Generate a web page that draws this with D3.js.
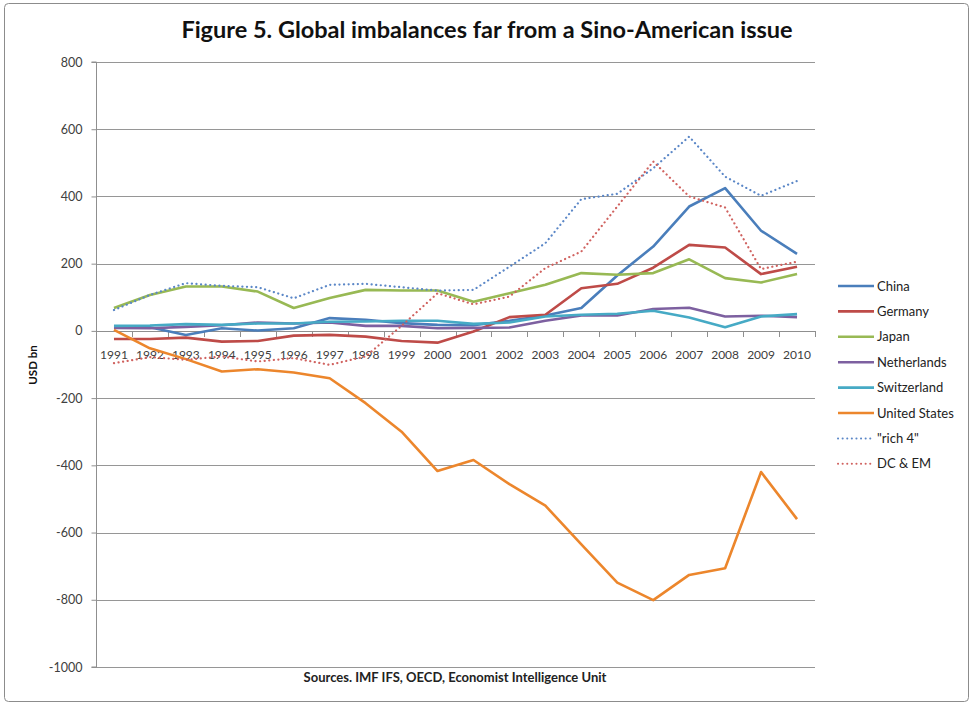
<!DOCTYPE html>
<html>
<head>
<meta charset="utf-8">
<script src="https://cdn.jsdelivr.net/npm/d3@7"></script>
<style>
  body { margin: 0; background: #fff; }
  svg { display: block; font-family: Lato, "Open Sans", sans-serif; }
</style>
</head>
<body>
<div id="graphicContainer"></div>
<script>
var years = ["1991","1992","1993","1994","1995","1996","1997","1998","1999","2000",
  "2001","2002","2003","2004","2005","2006","2007","2008","2009","2010"]
var yTicks = [800, 600, 400, 200, 0, -200, -400, -600, -800, -1000]

var china = [13, 11, -12, 8, 1, 8, 38, 33, 23, 18, 17, 30, 46, 68, 165, 251, 370, 425, 298, 229]
var germany = [-24, -24, -20, -32, -30, -14, -12, -17, -30, -35, -2, 41, 48, 127, 140, 188, 256, 248, 169, 191]
var japan = [68, 107, 132, 132, 117, 68, 98, 122, 120, 120, 87, 112, 137, 172, 167, 172, 213, 157, 144, 169]
var netherlands = [9, 8, 12, 17, 25, 22, 25, 15, 15, 8, 9, 10, 30, 46, 46, 65, 69, 43, 45, 41]
var switzerland = [15, 16, 20, 18, 22, 22, 27, 28, 30, 30, 21, 25, 43, 48, 51, 60, 40, 11, 43, 50]
var unitedStates = [3, -52, -84, -121, -114, -124, -141, -215, -300, -417, -384, -456, -520, -635, -749, -801, -726, -706, -420, -560]
var rich4 = [62, 107, 142, 134, 130, 97, 137, 140, 130, 120, 122, 191, 261, 392, 408, 484, 578, 459, 402, 446]
var dcEm = [-96, -78, -86, -76, -91, -81, -101, -76, 15, 112, 79, 102, 187, 236, 370, 504, 400, 367, 184, 206]

var series = [
  { name: "China", values: china, color: "#4a7ebb", dotted: false },
  { name: "Germany", values: germany, color: "#be4b48", dotted: false },
  { name: "Japan", values: japan, color: "#98b954", dotted: false },
  { name: "Netherlands", values: netherlands, color: "#7d60a0", dotted: false },
  { name: "Switzerland", values: switzerland, color: "#46aac5", dotted: false },
  { name: "United States", values: unitedStates, color: "#ec862c", dotted: false },
  { name: "\"rich 4\"", values: rich4, color: "#5b87c7", dotted: true },
  { name: "DC & EM", values: dcEm, color: "#d0625f", dotted: true }
]

var width = 971
var height = 704
var plotLeft = 96, plotRight = 815, plotTop = 62, plotBottom = 667

var svg = d3.select("#graphicContainer")
  .append("svg")
  .attr("width", width)
  .attr("height", height)

// outer frame
svg.append("rect")
  .attr("x", 4.5).attr("y", 3.5)
  .attr("width", 964).attr("height", 698)
  .attr("rx", 4)
  .attr("fill", "#fff")
  .attr("stroke", "#8c8c8c")
  .attr("stroke-width", 1)

var x = d3.scaleBand().domain(years).range([plotLeft, plotRight])
var y = d3.scaleLinear().domain([-1000, 800]).range([plotBottom, plotTop])

// gridlines
svg.append("g")
  .selectAll("line")
  .data(yTicks.filter(d => d !== 0))
  .join("line")
  .attr("x1", plotLeft).attr("x2", plotRight)
  .attr("y1", d => Math.round(y(d)) + 0.5)
  .attr("y2", d => Math.round(y(d)) + 0.5)
  .attr("stroke", "#969696")
  .attr("stroke-width", 1)

// y axis
var yAxis = svg.append("g")
  .attr("transform", "translate(" + (plotLeft + 0.5) + ",0)")
  .call(d3.axisLeft(y).tickValues(yTicks).tickSize(5).tickPadding(9).tickFormat(d => String(d)))
yAxis.select(".domain").attr("stroke", "#8f8f8f").attr("d", "M-5," + (y(800)) + "H0V" + y(-1000) + "H-5")
yAxis.selectAll(".tick line").attr("stroke", "#8f8f8f")
yAxis.selectAll(".tick text")
  .attr("fill", "#404040")
  .style("font-size", "12.5px")
  .style("font-family", "Lato, sans-serif")

// x axis at zero
var boundaries = years.map(d => x(d)).concat([plotRight])
var xAxis = svg.append("g")
xAxis.append("line")
  .attr("x1", plotLeft).attr("x2", plotRight)
  .attr("y1", Math.round(y(0)) + 0.5).attr("y2", Math.round(y(0)) + 0.5)
  .attr("stroke", "#8f8f8f")
xAxis.selectAll("line.tk")
  .data(boundaries)
  .join("line")
  .attr("class", "tk")
  .attr("x1", d => Math.round(d) + 0.5).attr("x2", d => Math.round(d) + 0.5)
  .attr("y1", Math.round(y(0))).attr("y2", Math.round(y(0)) + 6)
  .attr("stroke", "#8f8f8f")
xAxis.selectAll("text")
  .data(years)
  .join("text")
  .attr("x", d => x(d) + x.bandwidth() / 2)
  .attr("y", y(0) + 28)
  .attr("text-anchor", "middle")
  .attr("fill", "#404040")
  .style("font-size", "12px")
  .text(d => d)

// lines
var line = d3.line()
  .x((d, i) => x(years[i]) + x.bandwidth() / 2)
  .y(d => y(d))

svg.append("g")
  .selectAll("path")
  .data(series)
  .join("path")
  .attr("d", d => line(d.values))
  .attr("fill", "none")
  .attr("stroke", d => d.color)
  .attr("stroke-width", d => d.dotted ? 2.2 : 2.6)
  .attr("stroke-dasharray", d => d.dotted ? "0.1,4.5" : null)
  .attr("stroke-linecap", d => d.dotted ? "round" : "butt")
  .attr("stroke-linejoin", "round")

// legend
var legend = svg.append("g")
  .selectAll("g")
  .data(series)
  .join("g")
  .attr("transform", (d, i) => "translate(838," + (286 + i * 25.4) + ")")

legend.append("line")
  .attr("x1", 0).attr("x2", 36)
  .attr("stroke", d => d.color)
  .attr("stroke-width", d => d.dotted ? 2 : 2.6)
  .attr("stroke-dasharray", d => d.dotted ? "0.1,4.5" : null)
  .attr("stroke-linecap", d => d.dotted ? "round" : "butt")

legend.append("text")
  .attr("x", 39)
  .attr("y", 4.5)
  .attr("fill", "#222")
  .style("font-size", "13px")
  .text(d => d.name)

// title
svg.append("text")
  .attr("x", 487)
  .attr("y", 38)
  .attr("text-anchor", "middle")
  .attr("fill", "#111")
  .style("font-size", "23.5px")
  .style("font-weight", "bold")
  .text("Figure 5. Global imbalances far from a Sino-American issue")

// y label
svg.append("text")
  .attr("transform", "translate(37,365) rotate(-90)")
  .attr("text-anchor", "middle")
  .attr("fill", "#111")
  .style("font-size", "11.5px")
  .style("font-weight", "bold")
  .text("USD bn")

// sources
svg.append("text")
  .attr("x", 455)
  .attr("y", 682)
  .attr("text-anchor", "middle")
  .attr("fill", "#222")
  .style("font-size", "13px")
  .style("font-weight", "bold")
  .text("Sources. IMF IFS, OECD, Economist Intelligence Unit")
</script>
</body>
</html>
